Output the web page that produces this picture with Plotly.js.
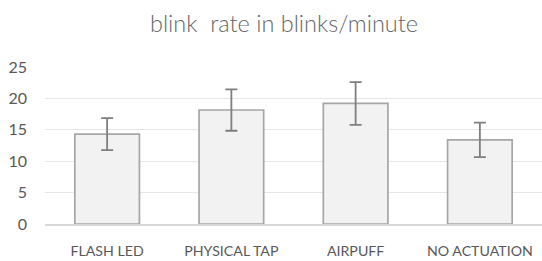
<!DOCTYPE html>
<html><head><meta charset="utf-8">
<script src="https://cdn.plot.ly/plotly-3.0.1.min.js"></script>
<style>html,body{margin:0;padding:0;background:#fff}#chart{width:542px;height:261px}</style>
</head><body><div id="chart"></div>
<script>
const categories = ["FLASH LED", "PHYSICAL TAP", "AIRPUFF", "NO ACTUATION"];
const blinkRate = [14.3, 18.15, 19.2, 13.4];
const errorSize = [2.55, 3.3, 3.4, 2.75];
const yTicks = [0, 5, 10, 15, 20, 25];

const fontFam = "Lato, 'Open Sans', sans-serif";
const trace = {
  type: "bar",
  x: categories,
  y: blinkRate,
  marker: {color: "#f2f2f2", line: {color: "#a6a6a6", width: 1.7}},
  error_y: {type: "data", array: errorSize, visible: true, color: "#7f7f7f", thickness: 1.8, width: 6},
  hoverinfo: "none"
};
const layout = {
  width: 542, height: 261,
  margin: {l: 45, r: 0, t: 67, b: 37},
  paper_bgcolor: "#fff", plot_bgcolor: "#fff",
  bargap: 0.48,
  showlegend: false,
  title: {text: "blink  rate in blinks/minute", x: 0.524, xanchor: "center", y: 0.91, yanchor: "middle",
          font: {family: fontFam, size: 23.5, weight: 300, color: "#666666"}},
  xaxis: {showgrid: false, showline: true, linecolor: "#d9d9d9", linewidth: 1.5, ticks: "",
          tickfont: {family: fontFam, size: 14.2, color: "#595959"}, ticklabelstandoff: 13, fixedrange: true},
  yaxis: {range: [0, 25], tickvals: yTicks, showgrid: true, gridcolor: "#e6e6e6", gridwidth: 1,
          zeroline: false, showline: false, ticks: "",
          tickfont: {family: fontFam, size: 16, color: "#595959"}, ticklabelstandoff: 17, fixedrange: true}
};
Plotly.newPlot("chart", [trace], layout, {staticPlot: true, displayModeBar: false});
</script>
</body></html>
